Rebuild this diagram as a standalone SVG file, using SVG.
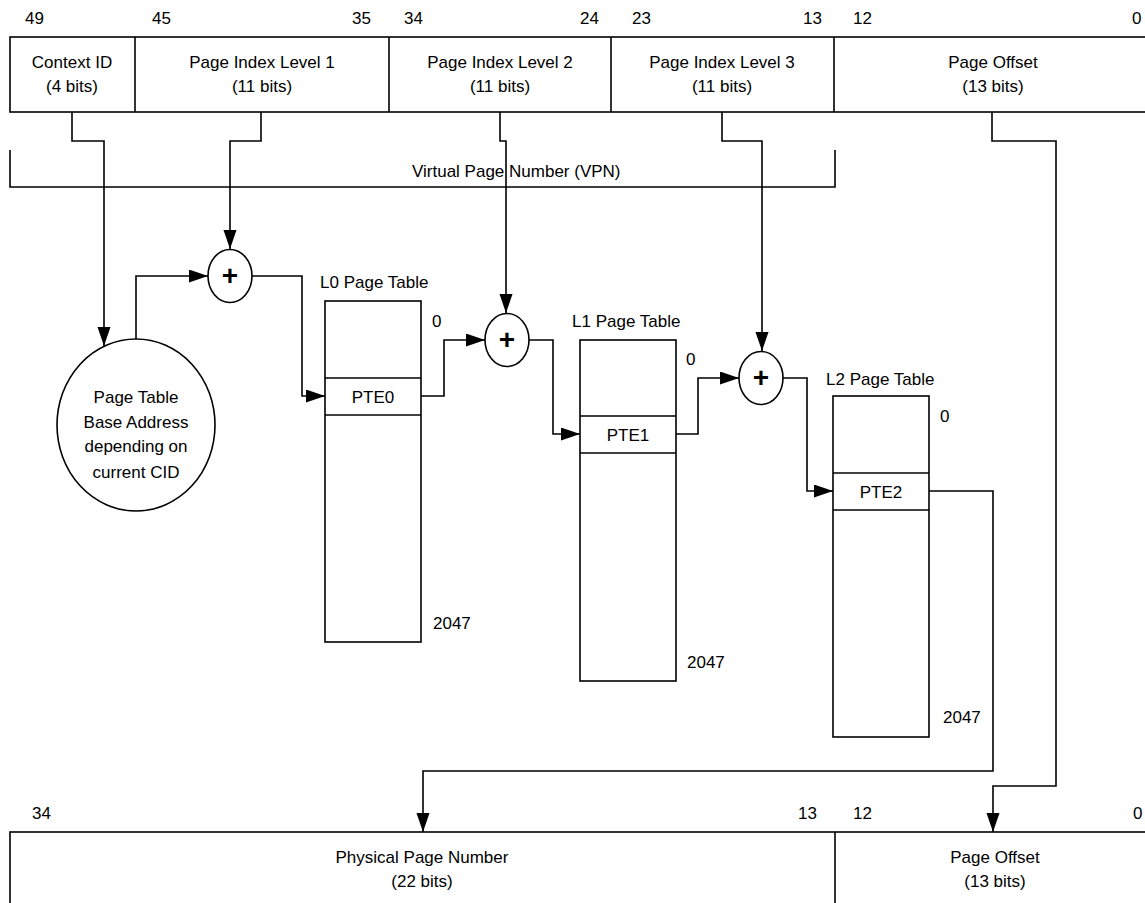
<svg xmlns="http://www.w3.org/2000/svg" width="1145" height="903" viewBox="0 0 1145 903">
<style>
text{font-family:"Liberation Sans",Arial,sans-serif;font-size:17px;fill:#000}
.c{text-anchor:middle}
.box{fill:#fff;stroke:#000;stroke-width:1.6}
.ln{fill:none;stroke:#000;stroke-width:1.6}
.ar{fill:none;stroke:#000;stroke-width:1.6;marker-end:url(#ah)}
.plus{font-size:28px;font-weight:bold;text-anchor:middle}
</style>
<defs>
<marker id="ah" markerUnits="userSpaceOnUse" markerWidth="20" markerHeight="14" refX="19" refY="6.5" orient="auto">
<path d="M0,0 L19,6.5 L0,13 z" fill="#000"/>
</marker>
</defs>
<rect width="1145" height="903" fill="#fff"/>

<g id="virtual-address">
<rect class="box" x="10" y="37" width="1145" height="75"/>
<line class="ln" x1="135" y1="37" x2="135" y2="112"/>
<line class="ln" x1="389" y1="37" x2="389" y2="112"/>
<line class="ln" x1="611" y1="37" x2="611" y2="112"/>
<line class="ln" x1="834" y1="37" x2="834" y2="112"/>
<text x="25" y="24">49</text>
<text x="152" y="24">45</text>
<text x="352" y="24">35</text>
<text x="404" y="24">34</text>
<text x="580" y="24">24</text>
<text x="632" y="24">23</text>
<text x="803" y="24">13</text>
<text x="853" y="24">12</text>
<text x="1132" y="24">0</text>
<text class="c" x="72" y="68">Context ID</text>
<text class="c" x="72" y="92">(4 bits)</text>
<text class="c" x="262" y="68">Page Index Level 1</text>
<text class="c" x="262" y="92">(11 bits)</text>
<text class="c" x="500" y="68">Page Index Level 2</text>
<text class="c" x="500" y="92">(11 bits)</text>
<text class="c" x="722" y="68">Page Index Level 3</text>
<text class="c" x="722" y="92">(11 bits)</text>
<text class="c" x="993" y="68">Page Offset</text>
<text class="c" x="993" y="92">(13 bits)</text>
</g>

<g id="vpn-bracket">
<path class="ln" d="M10,150 V187 H835 V150"/>
<text x="412" y="177">Virtual Page Number (VPN)</text>
</g>

<g id="base-address">
<ellipse class="box" cx="136" cy="425" rx="79" ry="86"/>
<text class="c" x="136" y="403">Page Table</text>
<text class="c" x="136" y="428">Base Address</text>
<text class="c" x="136" y="452">depending on</text>
<text class="c" x="136" y="478">current CID</text>
</g>

<g id="adder1">
<ellipse class="box" cx="230" cy="276" rx="22" ry="26.5"/>
<text class="plus" x="230" y="285">+</text>
</g>
<g id="adder2">
<ellipse class="box" cx="507" cy="340" rx="22" ry="26.5"/>
<text class="plus" x="507" y="349">+</text>
</g>
<g id="adder3">
<ellipse class="box" cx="761" cy="378" rx="22" ry="26.5"/>
<text class="plus" x="761" y="387">+</text>
</g>

<g id="l0-table">
<text x="320" y="288">L0 Page Table</text>
<rect class="box" x="325" y="301" width="96" height="341"/>
<line class="ln" x1="325" y1="378" x2="421" y2="378"/>
<line class="ln" x1="325" y1="415" x2="421" y2="415"/>
<text class="c" x="373" y="403">PTE0</text>
<text x="432" y="327">0</text>
<text x="433" y="629">2047</text>
</g>

<g id="l1-table">
<text x="572" y="327">L1 Page Table</text>
<rect class="box" x="580" y="340" width="96" height="341"/>
<line class="ln" x1="580" y1="416" x2="676" y2="416"/>
<line class="ln" x1="580" y1="453" x2="676" y2="453"/>
<text class="c" x="628" y="441">PTE1</text>
<text x="686" y="365">0</text>
<text x="687" y="668">2047</text>
</g>

<g id="l2-table">
<text x="826" y="385">L2 Page Table</text>
<rect class="box" x="833" y="396" width="96" height="341"/>
<line class="ln" x1="833" y1="473" x2="929" y2="473"/>
<line class="ln" x1="833" y1="510" x2="929" y2="510"/>
<text class="c" x="881" y="498">PTE2</text>
<text x="940" y="422">0</text>
<text x="943" y="723">2047</text>
</g>

<g id="physical-address">
<rect class="box" x="10" y="832" width="1145" height="80"/>
<line class="ln" x1="835" y1="832" x2="835" y2="903"/>
<text x="32" y="819">34</text>
<text x="798" y="819">13</text>
<text x="853" y="819">12</text>
<text x="1133" y="819">0</text>
<text class="c" x="422" y="863">Physical Page Number</text>
<text class="c" x="422" y="887">(22 bits)</text>
<text class="c" x="995" y="863">Page Offset</text>
<text class="c" x="995" y="887">(13 bits)</text>
</g>

<g id="connectors">
<path class="ar" d="M72,112 V141 H104 V346"/>
<path class="ar" d="M261,112 V141 H230 V249"/>
<path class="ar" d="M500,112 V141 H506 V313"/>
<path class="ar" d="M722,112 V141 H762 V351"/>
<path class="ar" d="M136,339 V276 H208"/>
<path class="ar" d="M252,276 H302 V396 H325"/>
<path class="ar" d="M421,396 H444 V340 H485"/>
<path class="ar" d="M529,340 H553 V434 H580"/>
<path class="ar" d="M676,434 H698 V378 H739"/>
<path class="ar" d="M783,378 H807 V491 H833"/>
<path class="ar" d="M929,491 H993 V771 H423 V832"/>
<path class="ar" d="M992,112 V141 H1056 V786 H993 V832"/>
</g>
</svg>
